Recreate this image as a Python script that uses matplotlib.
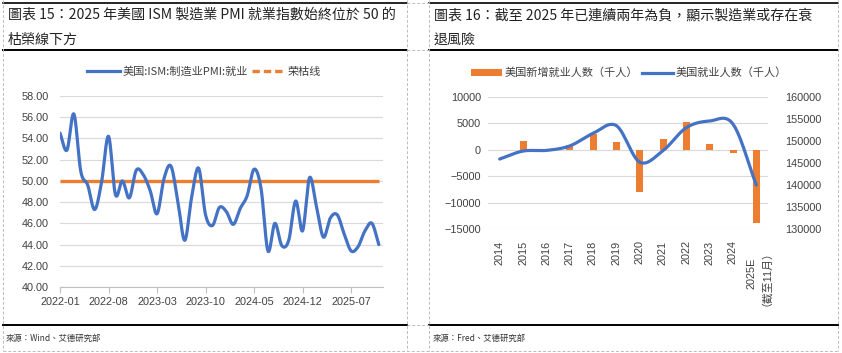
import matplotlib
matplotlib.use("Agg")
import matplotlib.pyplot as plt
from matplotlib.lines import Line2D
from matplotlib.patches import Patch
import numpy as np

plt.rcParams["font.family"] = ["Liberation Sans", "Noto Sans CJK SC", "DejaVu Sans"]

BLUE = "#4472C4"
ORANGE = "#ED7D31"
GRID = "#D9D9D9"
TXT = "#404040"

# ── data ──────────────────────────────────────────────────────────────────
# ISM manufacturing employment index, 2022-01 .. 2025-11 (monthly)
pmi_emp = [54.5, 52.9, 56.3, 50.9, 49.6, 47.3, 49.9, 54.2, 48.7, 50.0, 48.4, 51.0,
           50.6, 49.1, 46.9, 50.2, 51.4, 48.1, 44.4, 48.5, 51.2, 46.8, 45.8, 47.5,
           47.1, 45.9, 47.4, 48.6, 51.1, 49.3, 43.4, 46.0, 43.9, 44.4, 48.1, 45.3,
           50.3, 47.6, 44.7, 46.5, 46.8, 45.0, 43.4, 43.8, 45.3, 46.0, 44.0]
boom_line = 50.0
pmi_ticks = ["2022-01", "2022-08", "2023-03", "2023-10", "2024-05", "2024-12", "2025-07"]

years = ["2014", "2015", "2016", "2017", "2018", "2019", "2020", "2021",
         "2022", "2023", "2024", "2025E\n（截至11月）"]
new_jobs = [0, 1700, 0, 800, 2950, 1400, -8000, 2100, 5300, 1100, -700, -13800]
employed = [145900, 147700, 147850, 148850, 151700, 153450, 145200, 147800,
            153000, 154500, 153800, 140000]


def smooth(y, n=24):
    # Excel-style smoothed line (Catmull-Rom through every data point)
    y = np.asarray(y, float)
    x = np.arange(len(y), dtype=float)
    px = np.concatenate([[2 * x[0] - x[1]], x, [2 * x[-1] - x[-2]]])
    py = np.concatenate([[2 * y[0] - y[1]], y, [2 * y[-1] - y[-2]]])
    t = np.linspace(0, 1, n, endpoint=False)[:, None]
    xs, ys = [], []
    for i in range(len(y) - 1):
        for p, out in ((px, xs), (py, ys)):
            p0, p1, p2, p3 = p[i:i + 4]
            seg = 0.5 * ((2 * p1) + (-p0 + p2) * t + (2 * p0 - 5 * p1 + 4 * p2 - p3) * t ** 2
                         + (-p0 + 3 * p1 - 3 * p2 + p3) * t ** 3)
            out.append(seg.ravel())
    xs.append([x[-1]])
    ys.append([y[-1]])
    return np.concatenate(xs), np.concatenate(ys)


W, H = 842, 353
fig = plt.figure(figsize=(W / 100, H / 100), dpi=100)
fig.patch.set_facecolor("white")


def fx(px):
    return px / W


def fy(py):
    return 1 - py / H


# ── panel frames ──────────────────────────────────────────────────────────
for x0, x1 in ((3, 407), (429, 838)):
    for yy, lw in ((2.5, 1.2), (50, 1.4), (325, 1.4)):
        fig.add_artist(Line2D([fx(x0), fx(x1)], [fy(yy), fy(yy)], color="black", lw=lw))
for xx in (3, 407, 429, 838):
    fig.add_artist(Line2D([fx(xx), fx(xx)], [fy(0), fy(351)], color="#BBBBBB",
                          lw=0.7, ls=(0, (3, 2))))
for x0, x1, yy in ((3, 838, 351), (407, 429, 2.5), (407, 429, 50), (407, 429, 325)):
    fig.add_artist(Line2D([fx(x0), fx(x1)], [fy(yy), fy(yy)], color="#BBBBBB",
                          lw=0.7, ls=(0, (3, 2))))

tfont = dict(family=["Noto Sans CJK TC", "DejaVu Sans"], color="#222222", fontsize=10.1,
             va="center", ha="left")
fig.text(fx(8), fy(15), "圖表 15：2025 年美國 ISM 製造業 PMI 就業指數始終位於 50 的", **tfont)
fig.text(fx(8), fy(40), "枯榮線下方", **tfont)
fig.text(fx(434), fy(15), "圖表 16：截至 2025 年已連續兩年為負，顯示製造業或存在衰", **tfont)
fig.text(fx(434), fy(40), "退風險", **tfont)

sfont = dict(family=["Noto Sans CJK TC", "DejaVu Sans"], color="#333333", fontsize=6.0,
             va="center", ha="left")
fig.text(fx(6), fy(338), "來源：Wind、艾德研究部", **sfont)
fig.text(fx(433), fy(338), "來源：Fred、艾德研究部", **sfont)

# ── left chart: ISM employment ────────────────────────────────────────────
ax1 = fig.add_axes([fx(60), fy(287), fx(383) - fx(60), (287 - 96) / H])
sx, sy = smooth(pmi_emp)
ax1.plot(np.arange(len(pmi_emp)), [boom_line] * len(pmi_emp), color=ORANGE, lw=2.4,
         solid_capstyle="butt", zorder=3)
ax1.plot(sx, sy, color=BLUE, lw=2.3, solid_capstyle="round", zorder=4)
ax1.set_xlim(0, 46.6)
ax1.set_ylim(40, 58)
ax1.set_yticks(np.arange(40, 58.1, 2))
ax1.set_yticklabels([f"{v:.2f}" for v in np.arange(40, 58.1, 2)])
ax1.set_xticks([pmi_ticks.index(t) * 7 for t in pmi_ticks])
ax1.set_xticklabels(pmi_ticks)
ax1.grid(axis="y", color=GRID, lw=0.8)
ax1.set_axisbelow(True)
for s in ("top", "right", "left"):
    ax1.spines[s].set_visible(False)
ax1.spines["bottom"].set_color("#BFBFBF")
ax1.tick_params(axis="y", length=0, labelsize=7.8, labelcolor=TXT, pad=8)
ax1.tick_params(axis="x", length=4, color="#BFBFBF", labelsize=7.8, labelcolor=TXT, pad=3)

h1 = [Line2D([], [], color=BLUE, lw=2.3),
      Line2D([], [], color=ORANGE, lw=2.4, ls=(0, (2.2, 1.2)))]
fig.legend(h1, ["美国:ISM:制造业PMI:就业", "荣枯线"], loc="center",
           bbox_to_anchor=(fx(204), fy(72)), ncol=2, frameon=False,
           prop=dict(family=["Noto Sans CJK SC", "DejaVu Sans"], size=8.0),
           labelcolor=TXT, handlelength=3.0, handletextpad=0.25, columnspacing=0.3,
           borderpad=0)

# ── right chart: US employment ────────────────────────────────────────────
ax2 = fig.add_axes([fx(488), fy(229.3), fx(768) - fx(488), (229.3 - 96.7) / H])
xpos = np.arange(len(years))
ax2.bar(xpos, new_jobs, width=0.3, color=ORANGE, zorder=3)
ax2.set_xlim(-0.5, len(years) - 0.5)
ax2.set_ylim(-15000, 10000)
ax2.set_yticks(np.arange(-15000, 10001, 5000))
ax2.set_yticklabels([f"{v}".replace("-", "−") for v in range(-15000, 10001, 5000)])
ax2.set_xticks(xpos)
ax2.set_xticklabels(years, rotation=90, va="top", ha="center", linespacing=1.0)
ax2.grid(axis="y", color=GRID, lw=0.8)
ax2.set_axisbelow(True)
for s in ax2.spines.values():
    s.set_visible(False)
ax2.tick_params(axis="y", length=0, labelsize=7.8, labelcolor=TXT, pad=5)
ax2.tick_params(axis="x", length=0, labelsize=7.8, labelcolor=TXT, pad=8)

ax3 = ax2.twinx()
lx, ly = smooth(employed)
ax3.plot(lx, ly, color=BLUE, lw=2.3, solid_capstyle="round", zorder=4)
ax3.set_ylim(130000, 160000)
ax3.set_yticks(np.arange(130000, 160001, 5000))
for s in ax3.spines.values():
    s.set_visible(False)
ax3.tick_params(axis="y", length=0, labelsize=7.8, labelcolor=TXT, pad=12)

h2 = [Patch(facecolor=ORANGE), Line2D([], [], color=BLUE, lw=2.3)]
fig.legend(h2, ["美国新增就业人数（千人）", "美国就业人数（千人）"], loc="center",
           bbox_to_anchor=(fx(629), fy(73)), ncol=2, frameon=False,
           prop=dict(family=["Noto Sans CJK SC", "DejaVu Sans"], size=8.0),
           labelcolor=TXT, handlelength=2.8, handleheight=0.55, handletextpad=0.25,
           columnspacing=0.3, borderpad=0)

fig.savefig("out.png", dpi=100, facecolor="white")
